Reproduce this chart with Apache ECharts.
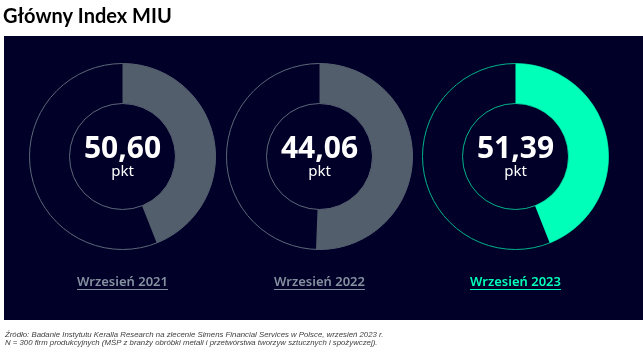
<!DOCTYPE html>
<html>
<head>
<meta charset="utf-8">
<script src="https://cdn.jsdelivr.net/npm/echarts@6/dist/echarts.min.js"></script>
<style>
  html, body { margin: 0; padding: 0; background: #fff; }
  #chart { width: 643px; height: 356px; }
</style>
</head>
<body>
<div id="chart"></div>
<script>
// dane
const periods = ['Wrzesień 2021', 'Wrzesień 2022', 'Wrzesień 2023']
const indexValues = [50.60, 44.06, 51.39]
// udział wypełnionego łuku, tak jak na rysunku (%)
const arcShares = [44, 50.6, 44]
const fillColors = ['#525e6b', '#525e6b', '#00ffb9']
const ringColors = ['#5d6878', '#5d6878', '#00b38a']
const labelColors = ['#8591a0', '#8591a0', '#00ffb9']

const centersX = [122.5, 319.5, 515.5]
const centerY = 156.5
const radius = [53, 93]
const labelY = 282

const chart = echarts.init(document.getElementById('chart'))

// szerokość tekstu do podkreślenia
const ctx = document.createElement('canvas').getContext('2d')
const labelFont = '600 13px "Noto Sans"'
ctx.font = labelFont

const series = []
periods.forEach((p, i) => {
  // cienki obrys całego pierścienia
  series.push({
    type: 'pie',
    center: [centersX[i], centerY],
    radius: radius,
    silent: true,
    label: { show: false },
    labelLine: { show: false },
    itemStyle: { color: 'transparent', borderColor: ringColors[i], borderWidth: 1 },
    data: [{ value: 100 }]
  })
  series.push({
    type: 'pie',
    center: [centersX[i], centerY],
    radius: radius,
    startAngle: 90,
    clockwise: true,
    silent: true,
    labelLine: { show: false },
    data: [
      {
        value: arcShares[i],
        itemStyle: { color: fillColors[i] },
        label: {
          show: true,
          position: 'center',
          formatter: '{v|' + indexValues[i].toFixed(2).replace('.', ',') + '}\n{u|pkt}',
          rich: {
            v: { fontFamily: 'Noto Sans', fontWeight: 'bold', fontSize: 30, color: '#fff', lineHeight: 31 },
            u: { fontFamily: 'Noto Sans', fontSize: 15, color: '#fff', lineHeight: 15 }
          }
        }
      },
      { value: 100 - arcShares[i], itemStyle: { color: 'transparent' }, label: { show: false } }
    ]
  })
})

const graphics = [
  { type: 'rect', z: -10, shape: { x: 4, y: 36, width: 639, height: 284 }, style: { fill: '#000028' } },
  {
    type: 'text', x: 3, y: 16.5,
    style: { text: 'Główny Index MIU', font: 'bold 20px Lato', fill: '#000', textVerticalAlign: 'middle' }
  },
  {
    type: 'text', x: 5, y: 334.5,
    style: {
      text: 'Źródło: Badanie Instytutu Keralla Research na zlecenie Simens Financial Services w Polsce, wrzesień 2023 r.',
      font: 'italic 7.8px "Liberation Sans"', fill: '#404040', textVerticalAlign: 'middle'
    }
  },
  {
    type: 'text', x: 5, y: 342.5,
    style: {
      text: 'N = 300 firm produkcyjnych (MŚP z branży obróbki metali i przetwórstwa tworzyw sztucznych i spożywczej).',
      font: 'italic 7.8px "Liberation Sans"', fill: '#404040', textVerticalAlign: 'middle'
    }
  }
]

periods.forEach((p, i) => {
  const w = ctx.measureText(p).width
  graphics.push({
    type: 'text', x: centersX[i], y: labelY,
    style: { text: p, font: labelFont, fill: labelColors[i], textAlign: 'center', textVerticalAlign: 'middle' }
  })
  graphics.push({
    type: 'line',
    shape: { x1: centersX[i] - w / 2, y1: labelY + 7.5, x2: centersX[i] + w / 2, y2: labelY + 7.5 },
    style: { stroke: labelColors[i], lineWidth: 1 }
  })
})

const option = {
  animation: false,
  series: series,
  graphic: graphics
}
option && chart.setOption(option)
</script>
</body>
</html>
